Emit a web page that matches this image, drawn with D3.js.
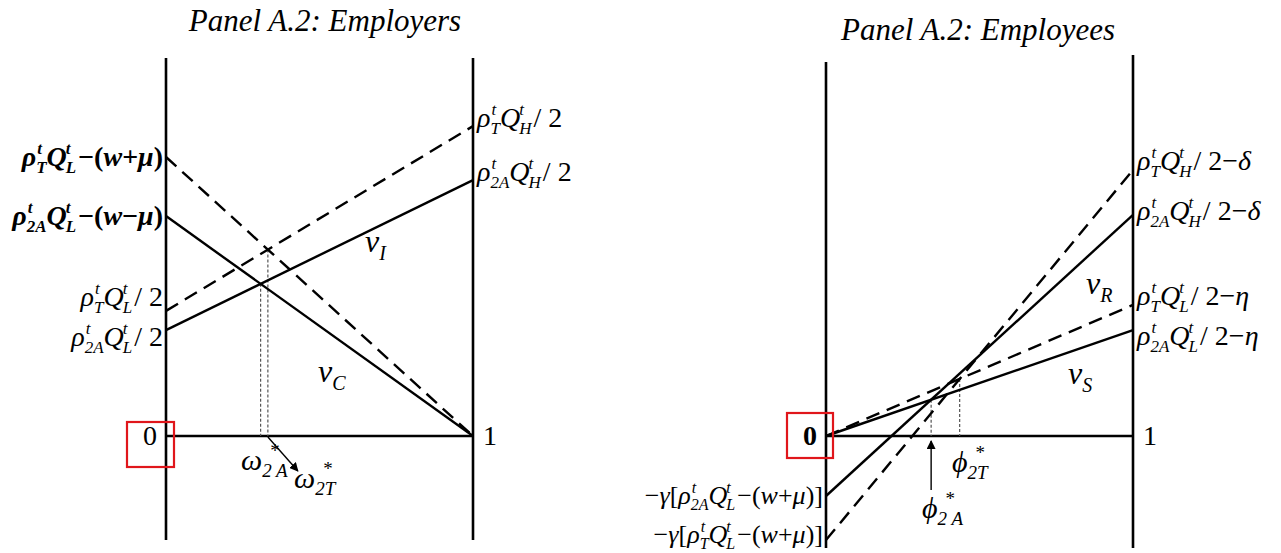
<!DOCTYPE html>
<html><head><meta charset="utf-8">
<script src="https://cdn.jsdelivr.net/npm/d3@7"></script>
<style>
html,body{margin:0;padding:0;background:#fff;}
text{font-family:"Liberation Serif","Times New Roman",serif;fill:#000;}
</style></head>
<body><svg id="c" width="1281" height="553"></svg>
<script>
// ---- data (value at x=0 and x=1, in chart units) ----
const employerStart = [9.3, 7.33, 4.17, 3.53];
const employerEnd   = [0, 0, 10.33, 8.53];
const employerDash  = [true, false, true, false];
const employeeStart = [-3.47, -2.0, 0, 0];
const employeeEnd   = [8.87, 7.37, 4.37, 3.53];
const employeeDash  = [true, false, true, false];
const panelTitles = ["Panel A.2: Employers", "Panel A.2: Employees"];
const xTickLabels = ["0", "1"];

const svg = d3.select("#c");
const y = d3.scaleLinear().domain([0, 10]).range([436, 136]);
const xL = d3.scaleLinear().domain([0, 1]).range([166, 473]);
const xR = d3.scaleLinear().domain([0, 1]).range([826, 1133]);
const FS = 28, SS = 17;

function mathLabel(x, yb, tokens, opt) {
  opt = opt || {};
  const size = opt.size || FS, ss = opt.ss || SS, bold = !!opt.bold;
  const g = svg.append("g");
  let cx = 0;
  tokens.forEach(t => {
    if (t.s !== undefined) {
      const e = g.append("text").attr("x", cx).attr("y", 0).text(t.s)
        .attr("font-size", size).attr("font-style", t.i ? "italic" : "normal")
        .attr("font-weight", bold ? "bold" : "normal");
      cx += e.node().getComputedTextLength() + (t.k || 0);
    } else {
      let w = 0;
      if (t.sup) {
        const e = g.append("text").attr("x", cx + (t.supdx || 0)).attr("y", -size * 0.42).text(t.sup)
          .attr("font-size", ss).attr("font-style", t.supi === false ? "normal" : "italic")
          .attr("font-weight", bold ? "bold" : "normal");
        w = Math.max(w, e.node().getComputedTextLength() + (t.supdx || 0));
      }
      if (t.sub) {
        const e = g.append("text").attr("x", cx + (t.subdx || 0)).attr("y", size * 0.24).text(t.sub)
          .attr("font-size", ss).attr("font-style", "italic")
          .attr("font-weight", bold ? "bold" : "normal");
        w = Math.max(w, e.node().getComputedTextLength() + (t.subdx || 0));
      }
      cx += w + (t.k || 0);
    }
  });
  const a = opt.anchor || "start";
  const off = a === "end" ? -cx : a === "middle" ? -cx / 2 : 0;
  g.attr("transform", `translate(${x + off},${yb})`);
  return g;
}
const rho = (sub) => [{s: "ρ", i: 1}, {sup: "t", sub: sub, supdx: 1}];
const Q = (sub) => [{s: "Q", i: 1, k: -1}, {sup: "t", sub: sub, k: 2}];

function inter(a0, a1, b0, b1) { const t = (b0 - a0) / ((a1 - a0) - (b1 - b0)); return [t, a0 + (a1 - a0) * t]; }

// ---- titles ----
svg.append("text").attr("x", 325).attr("y", 31).attr("text-anchor", "middle")
  .attr("font-size", 31).attr("font-style", "italic").text(panelTitles[0]);
svg.append("text").attr("x", 978).attr("y", 40).attr("text-anchor", "middle")
  .attr("font-size", 31).attr("font-style", "italic").text(panelTitles[1]);

const axStroke = (sel) => sel.attr("stroke", "#000").attr("stroke-width", 2.6).attr("fill", "none");

// ---- Employers panel ----
axStroke(svg.append("line").attr("x1", xL(0)).attr("x2", xL(0)).attr("y1", 58).attr("y2", 540));
axStroke(svg.append("line").attr("x1", xL(1)).attr("x2", xL(1)).attr("y1", 58).attr("y2", 540));
axStroke(svg.append("line").attr("x1", xL(0)).attr("x2", xL(1)).attr("y1", y(0)).attr("y2", y(0)));

const [tA, vA] = inter(employerStart[1], employerEnd[1], employerStart[3], employerEnd[3]);
const [tT, vT] = inter(employerStart[0], employerEnd[0], employerStart[2], employerEnd[2]);
[[tA, vA], [tT, vT]].forEach(([t, v]) => {
  svg.append("line").attr("x1", xL(t)).attr("x2", xL(t)).attr("y1", y(v)).attr("y2", y(0))
    .attr("stroke", "#555").attr("stroke-width", 1.2).attr("stroke-dasharray", "3,2");
});

employerStart.forEach((s, i) => {
  svg.append("line").attr("x1", xL(0)).attr("y1", y(s)).attr("x2", xL(1)).attr("y2", y(employerEnd[i]))
    .attr("stroke", "#000").attr("stroke-width", 2.4)
    .attr("stroke-dasharray", employerDash[i] ? "14,8" : null);
});

svg.append("text").attr("x", 150).attr("y", y(0) + 9).attr("text-anchor", "middle").attr("font-size", FS).text(xTickLabels[0]);
svg.append("text").attr("x", 490).attr("y", y(0) + 9).attr("text-anchor", "middle").attr("font-size", FS).text(xTickLabels[1]);
svg.append("rect").attr("x", 127).attr("y", 422).attr("width", 47).attr("height", 45)
  .attr("fill", "none").attr("stroke", "#e0161b").attr("stroke-width", 2.2);

mathLabel(163, 166, [...rho("T"), ...Q("L"), {s: "−("}, {s: "w", i: 1}, {s: "+"}, {s: "μ", i: 1}, {s: ")"}], {anchor: "end", bold: true});
mathLabel(163, 225, [...rho("2A"), ...Q("L"), {s: "−("}, {s: "w", i: 1}, {s: "−"}, {s: "μ", i: 1}, {s: ")"}], {anchor: "end", bold: true});
mathLabel(163, 306, [...rho("T"), ...Q("L"), {s: "/ 2"}], {anchor: "end"});
mathLabel(163, 346, [...rho("2A"), ...Q("L"), {s: "/ 2"}], {anchor: "end"});
mathLabel(477, 127, [...rho("T"), ...Q("H"), {s: " / 2"}], {});
mathLabel(477, 181, [...rho("2A"), ...Q("H"), {s: " / 2"}], {});
mathLabel(365, 252, [{s: "v", i: 1}, {sub: "I"}], {size: 32, ss: 20});
mathLabel(318, 382, [{s: "v", i: 1}, {sub: "C"}], {size: 32, ss: 20});
mathLabel(241, 470, [{s: "ω", i: 1}, {sup: "*", sub: "2 A", supi: false, supdx: 8}], {size: 30, ss: 19});
mathLabel(294, 488, [{s: "ω", i: 1}, {sup: "*", sub: "2T", supi: false, supdx: 8}], {size: 30, ss: 19});

svg.append("defs").append("marker").attr("id", "ah").attr("viewBox", "0 0 10 10")
  .attr("refX", 9).attr("refY", 5).attr("markerWidth", 9).attr("markerHeight", 9)
  .attr("orient", "auto").attr("markerUnits", "userSpaceOnUse")
  .append("path").attr("d", "M0,0 L10,5 L0,10 z").attr("fill", "#000");
svg.append("line").attr("x1", xL(tT)).attr("y1", y(0) + 1).attr("x2", xL(tT) + 30).attr("y2", y(0) + 35)
  .attr("stroke", "#000").attr("stroke-width", 1.4).attr("marker-end", "url(#ah)");

// ---- Employees panel ----
axStroke(svg.append("line").attr("x1", xR(0)).attr("x2", xR(0)).attr("y1", 62).attr("y2", 548));
axStroke(svg.append("line").attr("x1", xR(1)).attr("x2", xR(1)).attr("y1", 55).attr("y2", 548));
axStroke(svg.append("line").attr("x1", xR(0)).attr("x2", xR(1)).attr("y1", y(0)).attr("y2", y(0)));

const [pA, wA] = inter(employeeStart[1], employeeEnd[1], employeeStart[3], employeeEnd[3]);
const [pT, wT] = inter(employeeStart[0], employeeEnd[0], employeeStart[2], employeeEnd[2]);
[[pA, wA], [pT, wT]].forEach(([t, v]) => {
  svg.append("line").attr("x1", xR(t)).attr("x2", xR(t)).attr("y1", y(v)).attr("y2", y(0))
    .attr("stroke", "#555").attr("stroke-width", 1.2).attr("stroke-dasharray", "3,2");
});
employeeStart.forEach((s, i) => {
  svg.append("line").attr("x1", xR(0)).attr("y1", y(s)).attr("x2", xR(1)).attr("y2", y(employeeEnd[i]))
    .attr("stroke", "#000").attr("stroke-width", 2.4)
    .attr("stroke-dasharray", employeeDash[i] ? "14,8" : null);
});

svg.append("text").attr("x", 810).attr("y", y(0) + 9).attr("text-anchor", "middle").attr("font-size", FS).attr("font-weight", "bold").text(xTickLabels[0]);
svg.append("text").attr("x", 1150).attr("y", y(0) + 9).attr("text-anchor", "middle").attr("font-size", FS).text(xTickLabels[1]);
svg.append("rect").attr("x", 787).attr("y", 413).attr("width", 46).attr("height", 45)
  .attr("fill", "none").attr("stroke", "#e0161b").attr("stroke-width", 2.2);

mathLabel(1137, 170, [...rho("T"), ...Q("H"), {s: " / 2−"}, {s: "δ", i: 1}], {});
mathLabel(1137, 220, [...rho("2A"), ...Q("H"), {s: " / 2−"}, {s: "δ", i: 1}], {});
mathLabel(1137, 305, [...rho("T"), ...Q("L"), {s: " / 2−"}, {s: "η", i: 1}], {});
mathLabel(1137, 345, [...rho("2A"), ...Q("L"), {s: " / 2−"}, {s: "η", i: 1}], {});
mathLabel(823, 504, [{s: "−"}, {s: "γ", i: 1}, {s: "["}, ...rho("2A"), ...Q("L"), {s: "−("}, {s: "w", i: 1}, {s: "+"}, {s: "μ", i: 1}, {s: ")]"}], {anchor: "end", size: 26, ss: 16});
mathLabel(823, 543, [{s: "−"}, {s: "γ", i: 1}, {s: "["}, ...rho("T"), ...Q("L"), {s: "−("}, {s: "w", i: 1}, {s: "+"}, {s: "μ", i: 1}, {s: ")]"}], {anchor: "end", size: 26, ss: 16});

mathLabel(1086, 294, [{s: "v", i: 1}, {sub: "R"}], {size: 32, ss: 20});
mathLabel(1068, 384, [{s: "v", i: 1}, {sub: "S"}], {size: 32, ss: 20});

mathLabel(952, 472, [{s: "ϕ", i: 1}, {sup: "*", sub: "2T", supi: false, supdx: 8}], {size: 30, ss: 19});
mathLabel(922, 518, [{s: "ϕ", i: 1}, {sup: "*", sub: "2 A", supi: false, supdx: 8}], {size: 30, ss: 19});
svg.append("line").attr("x1", xR(pA)).attr("y1", 490).attr("x2", xR(pA)).attr("y2", y(0) + 5)
  .attr("stroke", "#000").attr("stroke-width", 1.4).attr("marker-end", "url(#ah)");
</script></body></html>
